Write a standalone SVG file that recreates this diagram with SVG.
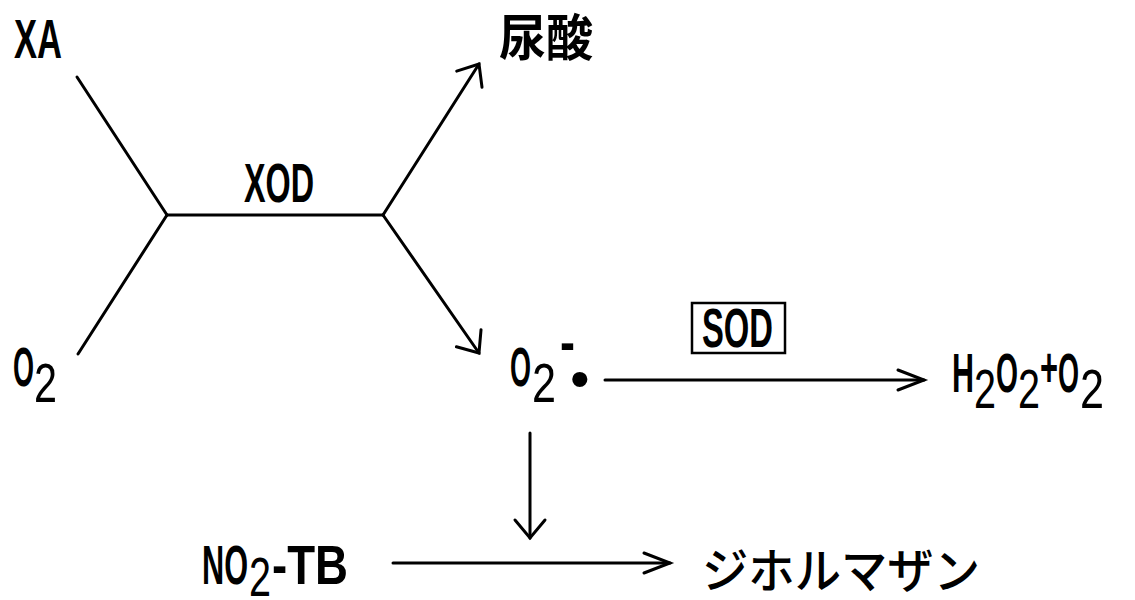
<svg xmlns="http://www.w3.org/2000/svg" width="1135" height="600" viewBox="0 0 1135 600">
  <style>
    .t { font-family: "Liberation Sans", Arial, sans-serif; font-size: 56px; font-weight: 700; fill: #000; }
    .d { font-family: "Liberation Sans", Arial, sans-serif; font-size: 56px; font-weight: 400; fill: #000; }
    .cjk { font-family: "Noto Sans CJK JP", sans-serif; fill: #000; }
    .ln { stroke: #000; stroke-width: 3; fill: none; stroke-linecap: round; }
    .hd { stroke: #000; stroke-width: 3; fill: none; stroke-linecap: round; stroke-linejoin: miter; }
  </style>
  <defs>
    <marker id="headH" markerUnits="userSpaceOnUse" markerWidth="40" markerHeight="40" refX="0" refY="0" orient="auto" overflow="visible">
      <path class="hd" d="M-26,-10 L0,0 L-26,10"/>
    </marker>
    <marker id="headW" markerUnits="userSpaceOnUse" markerWidth="40" markerHeight="40" refX="0" refY="0" orient="auto" overflow="visible">
      <path class="hd" d="M-18,-15 L0,0 L-18,15"/>
    </marker>
  </defs>
  <rect width="1135" height="600" fill="#fff"/>

  <g id="connectors">
    <line class="ln" x1="77" y1="77" x2="167" y2="215"/>
    <line class="ln" x1="78" y1="354" x2="167" y2="215"/>
    <line class="ln" x1="167" y1="215" x2="383" y2="215"/>
    <line class="ln" x1="383" y1="215" x2="479" y2="64" marker-end="url(#headW)"/>
    <line class="ln" x1="383" y1="215" x2="479" y2="353" marker-end="url(#headW)"/>
    <line class="ln" x1="605" y1="380" x2="924" y2="380" marker-end="url(#headH)"/>
    <line class="ln" x1="530" y1="433" x2="530" y2="538" marker-end="url(#headW)"/>
    <line class="ln" x1="393" y1="563" x2="670" y2="563" marker-end="url(#headH)"/>
  </g>

  <g id="node-xa">
    <text class="t" x="14" y="58" textLength="48" lengthAdjust="spacingAndGlyphs">XA</text>
  </g>
  <g id="node-xod">
    <text class="t" x="244" y="202" font-size="54" textLength="70" lengthAdjust="spacingAndGlyphs">XOD</text>
  </g>
  <g id="node-uric">
    <text class="cjk" x="499" y="56" font-size="50" font-weight="700" textLength="94" lengthAdjust="spacingAndGlyphs">尿酸</text>
  </g>
  <g id="node-o2">
    <text class="t" x="13" y="386" textLength="21" lengthAdjust="spacingAndGlyphs">O</text>
    <text class="d" x="34" y="402" textLength="23" lengthAdjust="spacingAndGlyphs">2</text>
  </g>
  <g id="node-superoxide">
    <text class="t" x="510" y="386" textLength="21" lengthAdjust="spacingAndGlyphs">O</text>
    <text class="d" x="532" y="402" textLength="24" lengthAdjust="spacingAndGlyphs">2</text>
    <text class="t" x="560" y="361" font-size="40" textLength="15" lengthAdjust="spacingAndGlyphs">-</text>
    <text class="d" x="570" y="398" font-size="50">•</text>
  </g>
  <g id="node-sod">
    <rect x="692" y="303" width="93" height="50" fill="none" stroke="#000" stroke-width="2.5"/>
    <text class="t" x="702" y="347" font-size="52" textLength="71" lengthAdjust="spacingAndGlyphs">SOD</text>
  </g>
  <g id="node-products">
    <text class="t" x="952" y="392" textLength="22" lengthAdjust="spacingAndGlyphs">H</text>
    <text class="d" x="974" y="408" textLength="22" lengthAdjust="spacingAndGlyphs">2</text>
    <text class="t" x="996" y="392" textLength="22" lengthAdjust="spacingAndGlyphs">O</text>
    <text class="d" x="1018" y="408" textLength="22" lengthAdjust="spacingAndGlyphs">2</text>
    <text class="t" x="1040" y="386" textLength="18" lengthAdjust="spacingAndGlyphs">+</text>
    <text class="t" x="1058" y="392" textLength="21" lengthAdjust="spacingAndGlyphs">O</text>
    <text class="d" x="1080" y="408" textLength="24" lengthAdjust="spacingAndGlyphs">2</text>
  </g>
  <g id="node-no2tb">
    <text class="t" x="202" y="584" textLength="46" lengthAdjust="spacingAndGlyphs">NO</text>
    <text class="d" x="249" y="596" textLength="22" lengthAdjust="spacingAndGlyphs">2</text>
    <text class="t" x="272" y="584" textLength="76" lengthAdjust="spacingAndGlyphs">-TB</text>
  </g>
  <g id="node-diformazan">
    <text class="cjk" x="702" y="588" font-size="48" font-weight="500" textLength="278" lengthAdjust="spacingAndGlyphs">ジホルマザン</text>
  </g>
</svg>
